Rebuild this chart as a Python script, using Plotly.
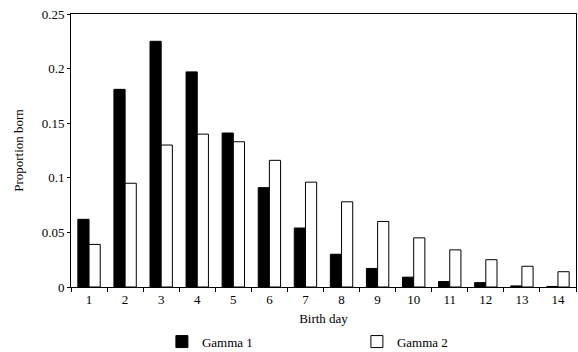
import plotly.graph_objects as go

days = [str(d) for d in range(1, 15)]
gamma1 = [0.062, 0.181, 0.225, 0.197, 0.141, 0.091, 0.054, 0.030, 0.017, 0.009, 0.005, 0.004, 0.001, 0.0005]
gamma2 = [0.039, 0.095, 0.130, 0.140, 0.133, 0.116, 0.096, 0.078, 0.060, 0.045, 0.034, 0.025, 0.019, 0.014]
y_ticks = [0, 0.05, 0.1, 0.15, 0.2, 0.25]
y_labels = ["0", "0.05", "0.1", "0.15", "0.2", "0.25"]

font = dict(family="Liberation Serif", size=13, color="black")

fig = go.Figure()
fig.add_trace(go.Bar(x=days, y=gamma1, name="Gamma 1",
                     marker=dict(color="black", line=dict(color="black", width=1))))
fig.add_trace(go.Bar(x=days, y=gamma2, name="Gamma 2",
                     marker=dict(color="white", line=dict(color="black", width=1))))

fig.update_layout(
    width=578, height=352,
    margin=dict(l=71, r=2, t=14, b=65, autoexpand=False),
    paper_bgcolor="white", plot_bgcolor="white",
    font=font,
    barmode="group", bargap=0.38, bargroupgap=0,
    showlegend=True,
    legend=dict(orientation="h", x=0.18, xanchor="left", y=-0.2, yanchor="middle",
                font=dict(family="Liberation Serif", size=13), itemwidth=30,
                entrywidth=150, bgcolor="rgba(0,0,0,0)"),
    xaxis=dict(type="category", showline=True, linecolor="black", linewidth=1, mirror=True,
               ticks="outside", tickson="boundaries", ticklen=4, tickcolor="black",
               showgrid=False, title=dict(text="Birth day", standoff=8,
                                          font=dict(family="Liberation Serif", size=13))),
    yaxis=dict(range=[0, 0.25], tickvals=y_ticks, ticktext=y_labels,
               showline=True, linecolor="black", linewidth=1, mirror=True,
               ticks="outside", ticklen=3, tickcolor="black", showgrid=False, zeroline=False,
               title=dict(text="Proportion born", standoff=15,
                          font=dict(family="Liberation Serif", size=13))),
)

fig.write_html("out.html")
